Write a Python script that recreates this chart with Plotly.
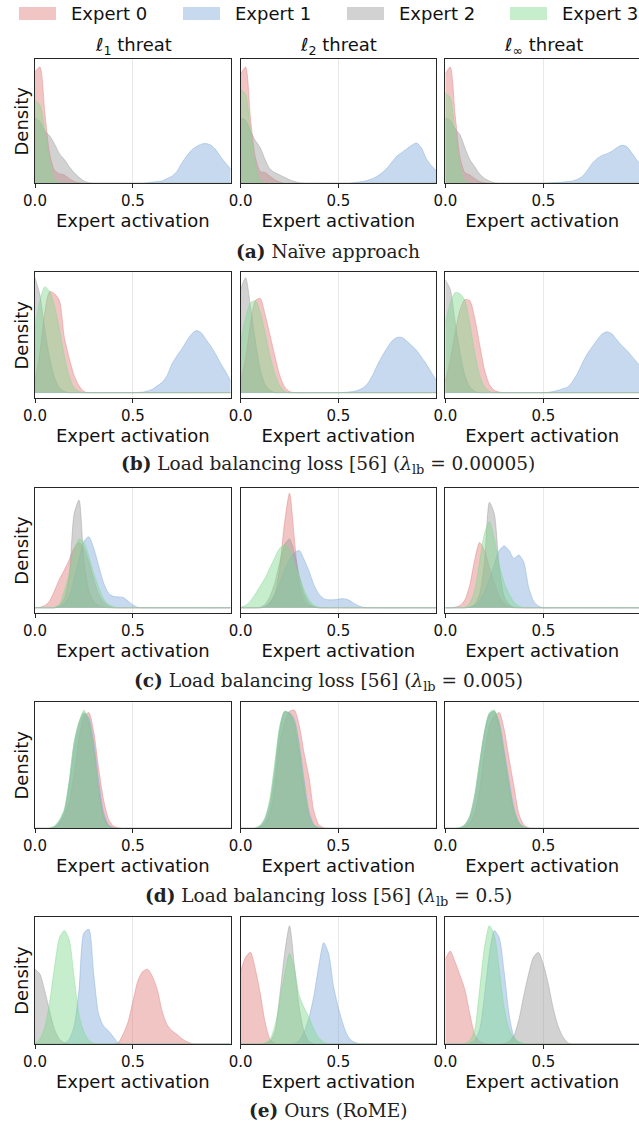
import plotly.graph_objects as go

W, H = 639, 1125

# common x grid of the density curves (expert activation)
X = [0.0, 0.025, 0.05, 0.075, 0.1, 0.125, 0.15, 0.175, 0.2, 0.225,
     0.25, 0.275, 0.3, 0.325, 0.35, 0.375, 0.4, 0.425, 0.45, 0.475,
     0.5, 0.525, 0.55, 0.575, 0.6, 0.625, 0.65, 0.675, 0.7, 0.725,
     0.75, 0.775, 0.8, 0.825, 0.85, 0.875, 0.9, 0.925, 0.95, 0.975,
     1.0]

EXPERTS = ["Expert 0", "Expert 1", "Expert 2", "Expert 3"]
COL_TITLES = ["<i>ℓ</i><sub>1</sub> threat", "<i>ℓ</i><sub>2</sub> threat", "<i>ℓ</i><sub>∞</sub> threat"]
CAPTIONS = [
    "<b>(a)</b> Naïve approach",
    "<b>(b)</b> Load balancing loss [56] (<i>λ</i><sub>lb</sub> = 0.00005)",
    "<b>(c)</b> Load balancing loss [56] (<i>λ</i><sub>lb</sub> = 0.005)",
    "<b>(d)</b> Load balancing loss [56] (<i>λ</i><sub>lb</sub> = 0.5)",
    "<b>(e)</b> Ours (RoME)",
]
XTICKVALS = [0.0, 0.5]
XTICKTEXT = ["0.0", "0.5"]

# ---- (a) Naive approach ----
A1_E0 = [94, 98, 60, 25, 11, 8, 7, 4, 1.5, 0.5,
         0, 0, 0, 0, 0, 0, 0, 0, 0, 0,
         0, 0, 0, 0, 0, 0, 0, 0, 0, 0,
         0, 0, 0, 0, 0, 0, 0, 0, 0, 0,
         0]
A1_E1 = [0, 0, 0, 0, 0, 0, 0, 0, 0, 0,
         0, 0, 0, 0, 0, 0, 0, 0, 0, 0,
         0, 0, 0, 0.5, 1, 1.5, 2, 4, 6, 10,
         17, 23, 28, 31, 33, 33.5, 32, 28, 22, 17,
         12]
A1_E2 = [55, 52, 44, 40, 33, 25, 20, 14, 9, 5,
         2, 0.5, 0, 0, 0, 0, 0, 0, 0, 0,
         0, 0, 0, 0, 0, 0, 0, 0, 0, 0,
         0, 0, 0, 0, 0, 0, 0, 0, 0, 0,
         0]
A1_E3 = [70, 66, 45, 18, 3, 0.5, 0, 0, 0, 0,
         0, 0, 0, 0, 0, 0, 0, 0, 0, 0,
         0, 0, 0, 0, 0, 0, 0, 0, 0, 0,
         0, 0, 0, 0, 0, 0, 0, 0, 0, 0,
         0]
A2_E0 = [92, 98, 55, 22, 10, 9, 6, 3, 1, 0,
         0, 0, 0, 0, 0, 0, 0, 0, 0, 0,
         0, 0, 0, 0, 0, 0, 0, 0, 0, 0,
         0, 0, 0, 0, 0, 0, 0, 0, 0, 0,
         0]
A2_E1 = [0, 0, 0, 0, 0, 0, 0, 0, 0, 0,
         0, 0, 0, 0, 0, 0, 0, 0, 0, 0,
         0, 0, 0, 0.5, 1, 1.5, 2.5, 4, 6, 9,
         13, 18, 23, 26, 29, 32, 34, 30, 21, 15,
         11]
A2_E2 = [55, 53, 44, 36, 30, 20, 12, 9, 7, 5,
         3, 1.5, 0.5, 0, 0, 0, 0, 0, 0, 0,
         0, 0, 0, 0, 0, 0, 0, 0, 0, 0,
         0, 0, 0, 0, 0, 0, 0, 0, 0, 0,
         0]
A2_E3 = [79, 75, 44, 15, 2, 0, 0, 0, 0, 0,
         0, 0, 0, 0, 0, 0, 0, 0, 0, 0,
         0, 0, 0, 0, 0, 0, 0, 0, 0, 0,
         0, 0, 0, 0, 0, 0, 0, 0, 0, 0,
         0]
A3_E0 = [92, 98, 58, 22, 9, 7, 4, 1.5, 0.5, 0,
         0, 0, 0, 0, 0, 0, 0, 0, 0, 0,
         0, 0, 0, 0, 0, 0, 0, 0, 0, 0,
         0, 0, 0, 0, 0, 0, 0, 0, 0, 0,
         0]
A3_E1 = [0, 0, 0, 0, 0, 0, 0, 0, 0, 0,
         0, 0, 0, 0, 0, 0, 0, 0, 0, 0,
         0, 0.3, 0.5, 0.8, 1, 1.5, 2, 3.5, 6, 11,
         17, 21, 23.5, 25, 27, 30, 32, 31, 26, 20,
         15]
A3_E2 = [55, 53, 46, 41, 30, 20, 14, 8, 4, 2,
         0.5, 0, 0, 0, 0, 0, 0, 0, 0, 0,
         0, 0, 0, 0, 0, 0, 0, 0, 0, 0,
         0, 0, 0, 0, 0, 0, 0, 0, 0, 0,
         0]
A3_E3 = [76, 72, 42, 14, 2, 0, 0, 0, 0, 0,
         0, 0, 0, 0, 0, 0, 0, 0, 0, 0,
         0, 0, 0, 0, 0, 0, 0, 0, 0, 0,
         0, 0, 0, 0, 0, 0, 0, 0, 0, 0,
         0]

# ---- (b) lambda = 0.00005 ----
B1_E0 = [10, 35, 70, 88, 86, 80, 48, 30, 15, 6,
         1, 0, 0, 0, 0, 0, 0, 0, 0, 0,
         0, 0, 0, 0, 0, 0, 0, 0, 0, 0,
         0, 0, 0, 0, 0, 0, 0, 0, 0, 0,
         0]
B1_E1 = [0, 0, 0, 0, 0, 0, 0, 0, 0, 0,
         0, 0, 0, 0, 0, 0, 0, 0, 0, 0,
         0, 0.2, 0.5, 1.5, 3, 6, 9, 15, 25, 32,
         38, 45, 51, 54, 52, 46, 40, 33, 25, 18,
         10]
B1_E2 = [100, 85, 55, 30, 13, 4, 1, 0, 0, 0,
         0, 0, 0, 0, 0, 0, 0, 0, 0, 0,
         0, 0, 0, 0, 0, 0, 0, 0, 0, 0,
         0, 0, 0, 0, 0, 0, 0, 0, 0, 0,
         0]
B1_E3 = [56, 80, 92, 88, 75, 55, 32, 14, 4, 1,
         0, 0, 0, 0, 0, 0, 0, 0, 0, 0,
         0, 0, 0, 0, 0, 0, 0, 0, 0, 0,
         0, 0, 0, 0, 0, 0, 0, 0, 0, 0,
         0]
B2_E0 = [10, 30, 60, 80, 82, 68, 50, 32, 15, 5,
         1, 0, 0, 0, 0, 0, 0, 0, 0, 0,
         0, 0, 0, 0, 0, 0, 0, 0, 0, 0,
         0, 0, 0, 0, 0, 0, 0, 0, 0, 0,
         0]
B2_E1 = [0, 0, 0, 0, 0, 0, 0, 0, 0, 0,
         0, 0, 0, 0, 0, 0, 0, 0, 0, 0,
         0, 0.2, 0.5, 1, 2, 4, 8, 15, 24, 32,
         39, 45, 48, 48, 45, 41, 37, 31, 25, 18,
         11]
B2_E2 = [90, 100, 75, 45, 20, 7, 2, 0, 0, 0,
         0, 0, 0, 0, 0, 0, 0, 0, 0, 0,
         0, 0, 0, 0, 0, 0, 0, 0, 0, 0,
         0, 0, 0, 0, 0, 0, 0, 0, 0, 0,
         0]
B2_E3 = [45, 65, 78, 80, 70, 52, 32, 16, 6, 1,
         0, 0, 0, 0, 0, 0, 0, 0, 0, 0,
         0, 0, 0, 0, 0, 0, 0, 0, 0, 0,
         0, 0, 0, 0, 0, 0, 0, 0, 0, 0,
         0]
B3_E0 = [10, 28, 52, 72, 81, 80, 65, 42, 20, 7,
         2, 0.5, 0, 0, 0, 0, 0, 0, 0, 0,
         0, 0, 0, 0, 0, 0, 0, 0, 0, 0,
         0, 0, 0, 0, 0, 0, 0, 0, 0, 0,
         0]
B3_E1 = [0, 0, 0, 0, 0, 0, 0, 0, 0, 0,
         0, 0, 0, 0, 0, 0, 0, 0, 0, 0,
         0, 0.3, 1, 2, 3.5, 5, 10, 17, 26, 34,
         40, 46, 51, 53, 51, 46, 41, 37, 32, 27,
         22]
B3_E2 = [98, 90, 62, 35, 15, 5, 1, 0, 0, 0,
         0, 0, 0, 0, 0, 0, 0, 0, 0, 0,
         0, 0, 0, 0, 0, 0, 0, 0, 0, 0,
         0, 0, 0, 0, 0, 0, 0, 0, 0, 0,
         0]
B3_E3 = [60, 78, 87, 86, 80, 60, 35, 15, 5, 1,
         0, 0, 0, 0, 0, 0, 0, 0, 0, 0,
         0, 0, 0, 0, 0, 0, 0, 0, 0, 0,
         0, 0, 0, 0, 0, 0, 0, 0, 0, 0,
         0]

# ---- (c) lambda = 0.005 ----
C1_E0 = [0, 0.5, 2, 6, 15, 25, 33, 42, 52, 57,
         52, 40, 25, 12, 5, 1.5, 0, 0, 0, 0,
         0, 0, 0, 0, 0, 0, 0, 0, 0, 0,
         0, 0, 0, 0, 0, 0, 0, 0, 0, 0,
         0]
C1_E1 = [0, 0, 0, 0, 0, 1, 4, 10, 25, 42,
         58, 62, 52, 37, 22, 13, 10, 9.5, 9, 6,
         2.5, 0.5, 0, 0, 0, 0, 0, 0, 0, 0,
         0, 0, 0, 0, 0, 0, 0, 0, 0, 0,
         0]
C1_E2 = [0, 0, 0, 0, 0, 2, 8, 28, 82, 94,
         40, 15, 5, 2, 0.5, 0, 0, 0, 0, 0,
         0, 0, 0, 0, 0, 0, 0, 0, 0, 0,
         0, 0, 0, 0, 0, 0, 0, 0, 0, 0,
         0]
C1_E3 = [0, 0, 0, 0, 0.5, 3, 15, 30, 50, 60,
         57, 45, 30, 18, 8, 3, 1, 0, 0, 0,
         0, 0, 0, 0, 0, 0, 0, 0, 0, 0,
         0, 0, 0, 0, 0, 0, 0, 0, 0, 0,
         0]
C2_E0 = [0, 0, 0, 0, 0, 1, 4, 12, 35, 75,
         100, 60, 20, 6, 2, 0.5, 0, 0, 0, 0,
         0, 0, 0, 0, 0, 0, 0, 0, 0, 0,
         0, 0, 0, 0, 0, 0, 0, 0, 0, 0,
         0]
C2_E1 = [0, 0, 0, 0, 0, 1, 5, 12, 22, 33,
         42, 48, 50, 42, 32, 20, 12, 8, 7, 7,
         7.5, 8, 7, 4.5, 2, 0.5, 0, 0, 0, 0,
         0, 0, 0, 0, 0, 0, 0, 0, 0, 0,
         0]
C2_E2 = [0, 0, 0, 0, 0.5, 3, 10, 22, 40, 55,
         60, 48, 28, 12, 4, 1, 0, 0, 0, 0,
         0, 0, 0, 0, 0, 0, 0, 0, 0, 0,
         0, 0, 0, 0, 0, 0, 0, 0, 0, 0,
         0]
C2_E3 = [0.5, 2, 6, 12, 19, 26, 35, 44, 52, 55,
         50, 38, 27, 15, 7, 2, 0.5, 0, 0, 0,
         0, 0, 0, 0, 0, 0, 0, 0, 0, 0,
         0, 0, 0, 0, 0, 0, 0, 0, 0, 0,
         0]
C3_E0 = [0, 0, 0.5, 2, 7, 20, 42, 57, 50, 35,
         22, 10, 4, 1, 0, 0, 0, 0, 0, 0,
         0, 0, 0, 0, 0, 0, 0, 0, 0, 0,
         0, 0, 0, 0, 0, 0, 0, 0, 0, 0,
         0]
C3_E1 = [0, 0, 0, 0, 0, 0.5, 2, 6, 14, 25,
         38, 50, 54, 50, 43, 46, 40, 18, 6, 1.5,
         0, 0, 0, 0, 0, 0, 0, 0, 0, 0,
         0, 0, 0, 0, 0, 0, 0, 0, 0, 0,
         0]
C3_E2 = [0, 0, 0, 0, 0, 0.5, 3, 12, 40, 92,
         82, 35, 10, 3, 0.5, 0, 0, 0, 0, 0,
         0, 0, 0, 0, 0, 0, 0, 0, 0, 0,
         0, 0, 0, 0, 0, 0, 0, 0, 0, 0,
         0]
C3_E3 = [0, 0, 0, 0, 0.5, 4, 15, 40, 65, 75,
         60, 38, 22, 12, 5, 1.5, 0, 0, 0, 0,
         0, 0, 0, 0, 0, 0, 0, 0, 0, 0,
         0, 0, 0, 0, 0, 0, 0, 0, 0, 0,
         0]

# ---- (d) lambda = 0.5 ----
D1_E0 = [0, 0, 0, 0, 1, 4, 10, 22, 45, 75,
         92, 96, 80, 50, 24, 8, 2, 0.5, 0, 0,
         0, 0, 0, 0, 0, 0, 0, 0, 0, 0,
         0, 0, 0, 0, 0, 0, 0, 0, 0, 0,
         0]
D1_E1 = [0, 0, 0, 0, 1.5, 6, 14, 35, 65, 85,
         95, 92, 72, 40, 14, 3, 0.5, 0, 0, 0,
         0, 0, 0, 0, 0, 0, 0, 0, 0, 0,
         0, 0, 0, 0, 0, 0, 0, 0, 0, 0,
         0]
D1_E2 = [0, 0, 0, 0, 1, 5, 14, 38, 70, 88,
         96, 88, 66, 32, 10, 2, 0.5, 0, 0, 0,
         0, 0, 0, 0, 0, 0, 0, 0, 0, 0,
         0, 0, 0, 0, 0, 0, 0, 0, 0, 0,
         0]
D1_E3 = [0, 0, 0, 0.5, 2, 7, 16, 40, 72, 88,
         98, 90, 65, 30, 8, 1.5, 0, 0, 0, 0,
         0, 0, 0, 0, 0, 0, 0, 0, 0, 0,
         0, 0, 0, 0, 0, 0, 0, 0, 0, 0,
         0]
D2_E0 = [0, 0, 0, 0, 1, 4, 12, 35, 70, 88,
         97, 98, 85, 62, 42, 14, 3, 0.5, 0, 0,
         0, 0, 0, 0, 0, 0, 0, 0, 0, 0,
         0, 0, 0, 0, 0, 0, 0, 0, 0, 0,
         0]
D2_E1 = [0, 0, 0, 0, 1.5, 6, 18, 45, 80, 96,
         96, 90, 70, 40, 14, 3, 0.5, 0, 0, 0,
         0, 0, 0, 0, 0, 0, 0, 0, 0, 0,
         0, 0, 0, 0, 0, 0, 0, 0, 0, 0,
         0]
D2_E2 = [0, 0, 0, 0, 2, 8, 22, 50, 83, 97,
         95, 86, 62, 32, 10, 2, 0.5, 0, 0, 0,
         0, 0, 0, 0, 0, 0, 0, 0, 0, 0,
         0, 0, 0, 0, 0, 0, 0, 0, 0, 0,
         0]
D2_E3 = [0, 0, 0, 0.5, 2.5, 9, 25, 55, 85, 97,
         95, 88, 65, 35, 10, 2, 0.5, 0, 0, 0,
         0, 0, 0, 0, 0, 0, 0, 0, 0, 0,
         0, 0, 0, 0, 0, 0, 0, 0, 0, 0,
         0]
D3_E0 = [0, 0, 0, 0, 1, 4, 12, 32, 62, 85,
         93, 96, 82, 58, 35, 12, 3, 0.5, 0, 0,
         0, 0, 0, 0, 0, 0, 0, 0, 0, 0,
         0, 0, 0, 0, 0, 0, 0, 0, 0, 0,
         0]
D3_E1 = [0, 0, 0, 0.5, 2, 8, 22, 50, 78, 94,
         97, 88, 65, 40, 17, 5, 1, 0, 0, 0,
         0, 0, 0, 0, 0, 0, 0, 0, 0, 0,
         0, 0, 0, 0, 0, 0, 0, 0, 0, 0,
         0]
D3_E2 = [0, 0, 0, 0.5, 3, 10, 27, 54, 80, 95,
         97, 85, 60, 34, 14, 4, 1, 0, 0, 0,
         0, 0, 0, 0, 0, 0, 0, 0, 0, 0,
         0, 0, 0, 0, 0, 0, 0, 0, 0, 0,
         0]
D3_E3 = [0, 0, 0, 0.5, 3, 10, 28, 55, 80, 96,
         98, 86, 60, 35, 15, 4, 1, 0, 0, 0,
         0, 0, 0, 0, 0, 0, 0, 0, 0, 0,
         0, 0, 0, 0, 0, 0, 0, 0, 0, 0,
         0]

# ---- (e) Ours (RoME) ----
E1_E0 = [0, 0, 0, 0, 0, 0, 0, 0, 0, 0,
         0, 0, 0, 0, 0, 0, 0, 1, 8, 18,
         35, 52, 60, 62, 56, 45, 27, 16, 11, 8,
         4.5, 2, 0.5, 0, 0, 0, 0, 0, 0, 0,
         0]
E1_E1 = [0, 0, 0, 0, 0, 0, 0.5, 4, 15, 45,
         92, 95, 58, 25, 15, 11, 6, 1, 0, 0,
         0, 0, 0, 0, 0, 0, 0, 0, 0, 0,
         0, 0, 0, 0, 0, 0, 0, 0, 0, 0,
         0]
E1_E2 = [62, 58, 44, 27, 12, 4, 1, 0, 0, 0,
         0, 0, 0, 0, 0, 0, 0, 0, 0, 0,
         0, 0, 0, 0, 0, 0, 0, 0, 0, 0,
         0, 0, 0, 0, 0, 0, 0, 0, 0, 0,
         0]
E1_E3 = [0.5, 4, 14, 35, 64, 88, 94, 86, 55, 24,
         10, 3, 0.5, 0, 0, 0, 0, 0, 0, 0,
         0, 0, 0, 0, 0, 0, 0, 0, 0, 0,
         0, 0, 0, 0, 0, 0, 0, 0, 0, 0,
         0]
E2_E0 = [60, 72, 76, 62, 42, 18, 4, 0.5, 0, 0,
         0, 0, 0, 0, 0, 0, 0, 0, 0, 0,
         0, 0, 0, 0, 0, 0, 0, 0, 0, 0,
         0, 0, 0, 0, 0, 0, 0, 0, 0, 0,
         0]
E2_E1 = [0, 0, 0, 0, 0, 0, 0, 0, 0, 0,
         0, 0.5, 3, 10, 22, 40, 65, 84, 75, 48,
         30, 16, 6, 2, 0.5, 0, 0, 0, 0, 0,
         0, 0, 0, 0, 0, 0, 0, 0, 0, 0,
         0]
E2_E2 = [0, 0, 0, 0, 0, 0.5, 2, 10, 40, 75,
         98, 65, 30, 10, 2, 0, 0, 0, 0, 0,
         0, 0, 0, 0, 0, 0, 0, 0, 0, 0,
         0, 0, 0, 0, 0, 0, 0, 0, 0, 0,
         0]
E2_E3 = [0, 0, 0, 0, 0, 1, 4, 15, 35, 58,
         75, 62, 40, 30, 22, 12, 5, 1.5, 0, 0,
         0, 0, 0, 0, 0, 0, 0, 0, 0, 0,
         0, 0, 0, 0, 0, 0, 0, 0, 0, 0,
         0]
E3_E0 = [70, 77, 68, 57, 45, 25, 8, 2, 0.5, 0,
         0, 0, 0, 0, 0, 0, 0, 0, 0, 0,
         0, 0, 0, 0, 0, 0, 0, 0, 0, 0,
         0, 0, 0, 0, 0, 0, 0, 0, 0, 0,
         0]
E3_E1 = [0, 0, 0, 0, 0, 0.5, 3, 12, 40, 75,
         94, 88, 60, 25, 6, 1, 0, 0, 0, 0,
         0, 0, 0, 0, 0, 0, 0, 0, 0, 0,
         0, 0, 0, 0, 0, 0, 0, 0, 0, 0,
         0]
E3_E2 = [0, 0, 0, 0, 0, 0, 0, 0, 0, 0,
         0, 0, 0.5, 2, 7, 20, 40, 58, 72, 76,
         66, 50, 30, 15, 6, 1, 0, 0, 0, 0,
         0, 0, 0, 0, 0, 0, 0, 0, 0, 0,
         0]
E3_E3 = [0, 0, 0, 0, 0.5, 3, 12, 45, 80, 98,
         90, 62, 30, 12, 5, 2, 0.5, 0, 0, 0,
         0, 0, 0, 0, 0, 0, 0, 0, 0, 0,
         0, 0, 0, 0, 0, 0, 0, 0, 0, 0,
         0]

PANELS = [
    [[A1_E0, A1_E1, A1_E2, A1_E3], [A2_E0, A2_E1, A2_E2, A2_E3], [A3_E0, A3_E1, A3_E2, A3_E3]],
    [[B1_E0, B1_E1, B1_E2, B1_E3], [B2_E0, B2_E1, B2_E2, B2_E3], [B3_E0, B3_E1, B3_E2, B3_E3]],
    [[C1_E0, C1_E1, C1_E2, C1_E3], [C2_E0, C2_E1, C2_E2, C2_E3], [C3_E0, C3_E1, C3_E2, C3_E3]],
    [[D1_E0, D1_E1, D1_E2, D1_E3], [D2_E0, D2_E1, D2_E2, D2_E3], [D3_E0, D3_E1, D3_E2, D3_E3]],
    [[E1_E0, E1_E1, E1_E2, E1_E3], [E2_E0, E2_E1, E2_E2, E2_E3], [E3_E0, E3_E1, E3_E2, E3_E3]],
]
for row in PANELS:
    for panel in row:
        for s in panel:
            assert len(s) == len(X), len(s)

# ---- styling / layout (pixels) ----
FILL = ["rgba(226,126,126,0.45)", "rgba(128,171,217,0.45)",
        "rgba(155,155,155,0.45)", "rgba(128,217,144,0.45)"]
LEG_SWATCH = ["#f2c5c5", "#c6d9ee", "#d2d2d2", "#c6eecd"]
ROW_TOP = [59.3, 272.3, 487.7, 702.3, 917.3]
ROW_BOT = [183.3, 398.3, 613.3, 828.3, 1044.0]
COL_L = [35.0, 240.7, 445.3]
COL_R = [230.7, 436.0, 639.0]
XMAX = [1.0, 1.0, 0.988]
YRANGE = [[0, 104.5], [-4.9, 104.7], [-4.8, 104.8], [0, 104.5], [0, 105]]
CAPTION_Y = [251, 465, 682, 897, 1110]
FONT = "DejaVu Sans"
AXC = "#262626"


def px_x(p):
    return p / W


def px_y(p):
    return 1 - p / H


fig = go.Figure()
layout = dict(
    width=W, height=H, margin=dict(l=0, r=0, t=0, b=0),
    paper_bgcolor="white", plot_bgcolor="white", showlegend=False,
    font=dict(family=FONT, size=15, color="#111"),
)

for r in range(5):
    for c in range(3):
        n = r * 3 + c + 1
        sfx = "" if n == 1 else str(n)
        for e in range(4):
            fig.add_trace(go.Scatter(
                x=X, y=PANELS[r][c][e], mode="lines",
                line=dict(color=FILL[e], width=1, shape="spline", smoothing=0.7),
                fill="tozeroy", fillcolor=FILL[e], name=EXPERTS[e],
                xaxis="x" + sfx, yaxis="y" + sfx, hoverinfo="skip",
            ))
        layout["xaxis" + sfx] = dict(
            domain=[px_x(COL_L[c]), px_x(COL_R[c])], anchor="y" + sfx,
            range=[0, XMAX[c]], tickvals=XTICKVALS, ticktext=XTICKTEXT,
            ticks="outside", ticklen=4, tickwidth=1, tickcolor=AXC,
            tickfont=dict(family=FONT, size=15, color="#111"),
            showline=True, linecolor=AXC, linewidth=1.2, mirror=True,
            showgrid=True, gridcolor="#e8e8e8", gridwidth=1, zeroline=False,
            title=dict(text="Expert activation", font=dict(family=FONT, size=18, color="#111"), standoff=0),
            automargin=False,
        )
        ydict = dict(
            domain=[px_y(ROW_BOT[r]), px_y(ROW_TOP[r])], anchor="x" + sfx,
            range=YRANGE[r], showticklabels=False, ticks="", showgrid=False, zeroline=False,
            showline=True, linecolor=AXC, linewidth=1.2, mirror=(c < 2),
            automargin=False,
        )
        if c == 0:
            ydict["title"] = dict(text="Density", font=dict(family=FONT, size=18, color="#111"), standoff=0)
        layout["yaxis" + sfx] = ydict

annotations = []
shapes = []
# column titles
for c in range(3):
    annotations.append(dict(
        x=px_x((COL_L[c] + COL_L[c] + 196) / 2), y=px_y(46), xref="paper", yref="paper",
        text=COL_TITLES[c], showarrow=False, xanchor="center", yanchor="middle",
        font=dict(family=FONT, size=18, color="#111"),
    ))
# captions
for r in range(5):
    annotations.append(dict(
        x=px_x(328), y=px_y(CAPTION_Y[r]), xref="paper", yref="paper",
        text=CAPTIONS[r], showarrow=False, xanchor="center", yanchor="middle",
        font=dict(family="DejaVu Serif", size=18.5, color="#222"),
    ))
# legend
LEG_X = [19, 183, 347, 510]
for e in range(4):
    shapes.append(dict(
        type="rect", xref="paper", yref="paper",
        x0=px_x(LEG_X[e]), x1=px_x(LEG_X[e] + 37), y0=px_y(20), y1=px_y(7),
        fillcolor=LEG_SWATCH[e], line=dict(width=0),
    ))
    annotations.append(dict(
        x=px_x(LEG_X[e] + 50), y=px_y(13.5), xref="paper", yref="paper",
        text=EXPERTS[e], showarrow=False, xanchor="left", yanchor="middle",
        font=dict(family=FONT, size=18, color="#111"),
    ))

layout["annotations"] = annotations
layout["shapes"] = shapes
fig.update_layout(**layout)
fig.write_html("out.html")
